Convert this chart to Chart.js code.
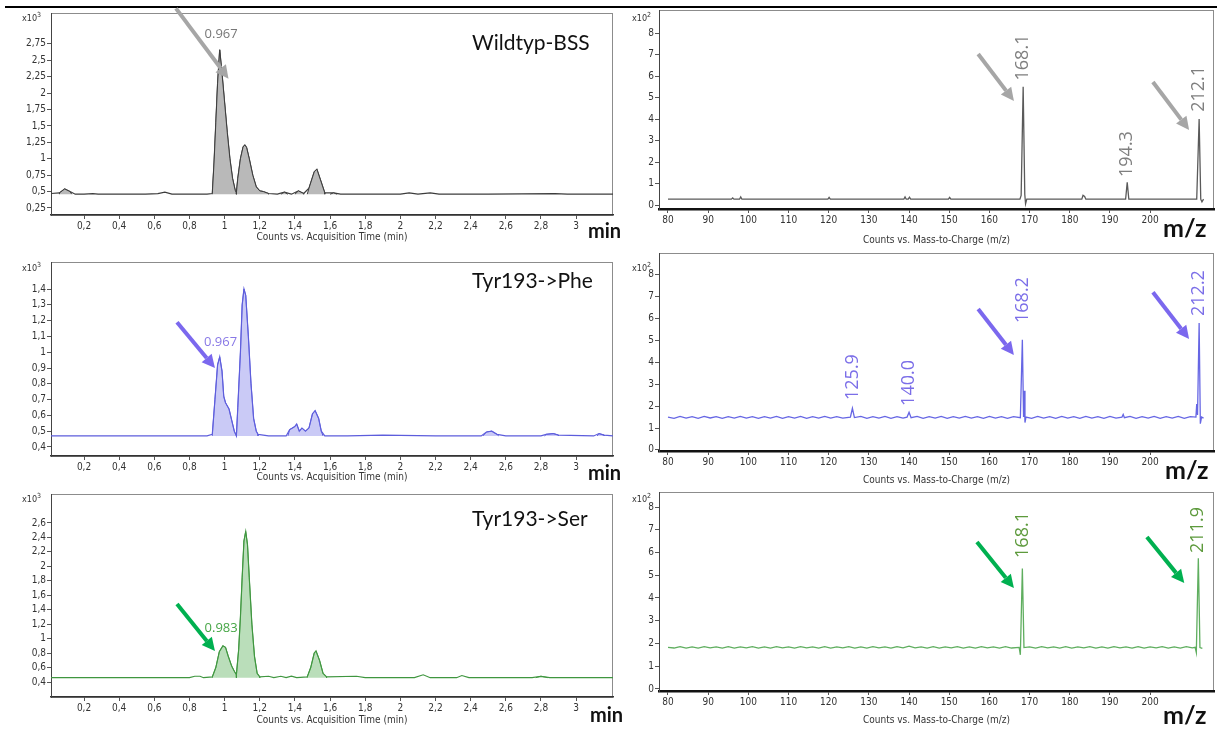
<!DOCTYPE html>
<html>
<head>
<meta charset="utf-8">
<script src="https://cdn.jsdelivr.net/npm/chart.js@4"></script>
<style>
  body { margin: 0; background: #fff; width: 1217px; height: 729px; overflow: hidden; position: relative; }
  canvas { position: absolute; }
  #topline { position: absolute; left: 5px; top: 6px; width: 1212px; height: 2px; background: #000; }
  .t { position: absolute; white-space: nowrap; }
  .title { font-family: Lato, "Open Sans", sans-serif; font-size: 21px; color: #111; line-height: 21px; }
  .unit { font-family: Lato, "Open Sans", sans-serif; font-weight: bold; color: #111; }
  .exp { font-family: "Liberation Sans Narrow", "DejaVu Sans Condensed", sans-serif; font-size: 9px; color: #333; line-height: 10px; }
  .exp sup { font-size: 7px; }
</style>
</head>
<body>
<div id="topline"></div>

<canvas id="wtChrom" width="620" height="245" style="left:0;top:0"></canvas>
<canvas id="pheChrom" width="620" height="238" style="left:0;top:248px"></canvas>
<canvas id="serChrom" width="620" height="249" style="left:0;top:480px"></canvas>
<canvas id="wtSpec" width="597" height="249" style="left:620px;top:0"></canvas>
<canvas id="pheSpec" width="597" height="249" style="left:620px;top:240px"></canvas>
<canvas id="serSpec" width="597" height="249" style="left:620px;top:480px"></canvas>

<div class="t title" style="left:472px;top:31px">Wildtyp-BSS</div>
<div class="t title" style="left:472px;top:269px">Tyr193-&gt;Phe</div>
<div class="t title" style="left:472px;top:507px">Tyr193-&gt;Ser</div>

<div class="t unit" style="left:588px;top:218px;font-size:20px">min</div>
<div class="t unit" style="left:588px;top:460px;font-size:20px">min</div>
<div class="t unit" style="left:590px;top:702px;font-size:20px">min</div>
<div class="t unit" style="left:1163px;top:212px;font-size:25px">m/z</div>
<div class="t unit" style="left:1165px;top:454px;font-size:25px">m/z</div>
<div class="t unit" style="left:1163px;top:699px;font-size:25px">m/z</div>

<div class="t exp" style="left:22px;top:10px">x10<sup>3</sup></div>
<div class="t exp" style="left:22px;top:260px">x10<sup>3</sup></div>
<div class="t exp" style="left:22px;top:491px">x10<sup>3</sup></div>
<div class="t exp" style="left:632px;top:10px">x10<sup>2</sup></div>
<div class="t exp" style="left:632px;top:260px">x10<sup>2</sup></div>
<div class="t exp" style="left:632px;top:491px">x10<sup>2</sup></div>

<script>
// ---- tick labels ----
const timeTicks = [0.2, 0.4, 0.6, 0.8, 1, 1.2, 1.4, 1.6, 1.8, 2, 2.2, 2.4, 2.6, 2.8, 3];
const wtCountTicks = [0.25, 0.5, 0.75, 1, 1.25, 1.5, 1.75, 2, 2.25, 2.5, 2.75];
const pheCountTicks = [0.4, 0.5, 0.6, 0.7, 0.8, 0.9, 1, 1.1, 1.2, 1.3, 1.4];
const serCountTicks = [0.4, 0.6, 0.8, 1, 1.2, 1.4, 1.6, 1.8, 2, 2.2, 2.4, 2.6];
const mzTicks = [80, 90, 100, 110, 120, 130, 140, 150, 160, 170, 180, 190, 200];
const specTicks = [0, 1, 2, 3, 4, 5, 6, 7, 8];

// ---- chromatograms (time in min, counts x10^3) ----
const wtTime = [0.01, 0.06, 0.09, 0.12, 0.15, 0.2, 0.25, 0.28, 0.4, 0.55, 0.62, 0.66, 0.7, 0.8, 0.9, 0.93, 0.94, 0.95, 0.96, 0.972, 0.985, 1.0, 1.015, 1.03, 1.045, 1.06, 1.067, 1.075, 1.09, 1.105, 1.115, 1.125, 1.14, 1.16, 1.18, 1.2, 1.22, 1.25, 1.3, 1.34, 1.38, 1.42, 1.45, 1.48, 1.51, 1.525, 1.545, 1.57, 1.62, 1.66, 1.8, 2.0, 2.05, 2.1, 2.17, 2.22, 2.5, 2.88, 2.95, 3.21];
const wtCounts = [0.47, 0.48, 0.54, 0.5, 0.46, 0.46, 0.47, 0.46, 0.46, 0.46, 0.47, 0.49, 0.46, 0.46, 0.46, 0.47, 0.95, 1.55, 2.15, 2.66, 2.3, 1.85, 1.4, 1.0, 0.7, 0.52, 0.48, 0.7, 1.0, 1.18, 1.21, 1.17, 1.0, 0.75, 0.57, 0.51, 0.5, 0.47, 0.46, 0.49, 0.46, 0.51, 0.47, 0.55, 0.8, 0.84, 0.68, 0.48, 0.48, 0.46, 0.46, 0.46, 0.48, 0.46, 0.48, 0.46, 0.46, 0.47, 0.46, 0.46];
const wtPeaks = [[0.06, 0.13], [0.93, 1.067], [1.067, 1.25], [1.32, 1.36], [1.4, 1.45], [1.47, 1.57], [1.6, 1.64]];

const pheTime = [0.01, 0.3, 0.5, 0.7, 0.9, 0.93, 0.945, 0.96, 0.972, 0.985, 0.995, 1.005, 1.025, 1.04, 1.055, 1.067, 1.075, 1.09, 1.1, 1.11, 1.12, 1.135, 1.15, 1.165, 1.18, 1.19, 1.25, 1.35, 1.37, 1.4, 1.41, 1.425, 1.44, 1.46, 1.48, 1.5, 1.515, 1.535, 1.55, 1.57, 1.7, 1.9, 2.2, 2.46, 2.49, 2.52, 2.55, 2.6, 2.8, 2.83, 2.87, 2.9, 3.1, 3.13, 3.16, 3.21];
const pheCounts = [0.47, 0.47, 0.47, 0.47, 0.47, 0.48, 0.7, 0.92, 0.97, 0.88, 0.72, 0.68, 0.64, 0.57, 0.5, 0.47, 0.65, 1.0, 1.3, 1.4, 1.36, 1.1, 0.8, 0.58, 0.5, 0.48, 0.47, 0.47, 0.51, 0.53, 0.545, 0.5, 0.52, 0.5, 0.52, 0.61, 0.63, 0.58, 0.5, 0.47, 0.47, 0.475, 0.47, 0.47, 0.495, 0.5, 0.48, 0.47, 0.47, 0.48, 0.485, 0.475, 0.47, 0.485, 0.475, 0.47];
const phePeaks = [[0.93, 1.067], [1.067, 1.19], [1.36, 1.56], [2.47, 2.56], [2.82, 2.9], [3.12, 3.16]];

const serTime = [0.01, 0.2, 0.5, 0.7, 0.8, 0.83, 0.86, 0.88, 0.93, 0.95, 0.97, 0.99, 1.005, 1.02, 1.04, 1.055, 1.067, 1.08, 1.09, 1.1, 1.11, 1.12, 1.13, 1.14, 1.155, 1.17, 1.185, 1.2, 1.25, 1.28, 1.32, 1.35, 1.38, 1.41, 1.47, 1.49, 1.51, 1.52, 1.54, 1.56, 1.58, 1.75, 1.8, 2.08, 2.13, 2.17, 2.32, 2.35, 2.39, 2.75, 2.8, 2.85, 3.21];
const serCounts = [0.46, 0.46, 0.46, 0.46, 0.46, 0.48, 0.48, 0.46, 0.47, 0.6, 0.82, 0.9, 0.88, 0.76, 0.62, 0.55, 0.5, 0.85, 1.3, 1.85, 2.35, 2.48, 2.3, 1.85, 1.2, 0.75, 0.52, 0.47, 0.48, 0.46, 0.48, 0.46, 0.48, 0.46, 0.47, 0.6, 0.8, 0.83, 0.7, 0.52, 0.47, 0.48, 0.46, 0.46, 0.5, 0.46, 0.46, 0.49, 0.46, 0.46, 0.48, 0.46, 0.46];
const serPeaks = [[0.93, 1.067], [1.067, 1.2], [1.47, 1.58], [2.77, 2.84]];

// ---- mass spectra [m/z, counts x10^2] ----
const wtSpectrum = [[80, 0.27], [95.8, 0.27], [96.1, 0.33], [96.4, 0.27], [97.8, 0.27], [98.1, 0.38], [98.4, 0.27], [119.8, 0.27], [120.1, 0.35], [120.4, 0.27], [138.7, 0.27], [139, 0.38], [139.3, 0.27], [139.8, 0.27], [140.1, 0.36], [140.4, 0.27], [149.8, 0.27], [150.1, 0.35], [150.4, 0.27], [167.6, 0.27], [167.9, 0.45], [168.4, 5.5], [168.8, 0.5], [169.0, 0.05], [169.3, 0.27], [183, 0.27], [183.3, 0.45], [183.7, 0.4], [184, 0.27], [193.9, 0.27], [194.3, 1.05], [194.7, 0.27], [211.6, 0.27], [212.2, 4.0], [212.6, 0.27], [212.9, 0.15], [213.3, 0.27]];

const pheSpectrum = [[80, 1.5], [81.5, 1.44], [83, 1.53], [84.5, 1.45], [86, 1.52], [87.5, 1.44], [89, 1.53], [90.5, 1.46], [92, 1.52], [93.5, 1.44], [95, 1.52], [96.5, 1.45], [98, 1.53], [99.5, 1.45], [101, 1.52], [102.5, 1.44], [104, 1.52], [105.5, 1.45], [107, 1.53], [108.5, 1.44], [110, 1.52], [111.5, 1.45], [113, 1.53], [114.5, 1.44], [116, 1.52], [117.5, 1.45], [119, 1.53], [120.5, 1.45], [122, 1.52], [123.5, 1.45], [125.4, 1.5], [125.9, 1.9], [126.4, 1.48], [128, 1.53], [129.5, 1.44], [131, 1.52], [132.5, 1.45], [134, 1.53], [135.5, 1.44], [137, 1.52], [138.5, 1.45], [139.5, 1.5], [140, 1.72], [140.5, 1.47], [142, 1.53], [143.5, 1.44], [145, 1.52], [146.5, 1.45], [148, 1.53], [149.5, 1.44], [151, 1.52], [152.5, 1.45], [154, 1.53], [155.5, 1.45], [157, 1.52], [158.5, 1.44], [160, 1.53], [161.5, 1.45], [163, 1.52], [164.5, 1.44], [166, 1.52], [167.7, 1.47], [168.2, 5.03], [168.5, 1.5], [168.7, 2.7], [168.85, 1.25], [169.1, 1.5], [170.5, 1.44], [172, 1.53], [173.5, 1.45], [175, 1.52], [176.5, 1.44], [178, 1.53], [179.5, 1.45], [181, 1.52], [182.5, 1.44], [184, 1.53], [185.5, 1.45], [187, 1.52], [188.5, 1.44], [190, 1.53], [191.5, 1.45], [193, 1.5], [193.3, 1.62], [193.6, 1.47], [195, 1.53], [196.5, 1.44], [198, 1.52], [199.5, 1.45], [201, 1.53], [202.5, 1.44], [204, 1.52], [205.5, 1.45], [207, 1.53], [208.5, 1.44], [210, 1.52], [211.4, 1.5], [211.6, 2.1], [211.8, 1.6], [212.2, 5.8], [212.5, 1.2], [212.8, 1.5], [213.3, 1.45]];

const serSpectrum = [[80, 1.83], [81.5, 1.8], [83, 1.86], [84.5, 1.8], [86, 1.85], [87.5, 1.8], [89, 1.86], [90.5, 1.81], [92, 1.85], [93.5, 1.8], [95, 1.86], [96.5, 1.8], [98, 1.85], [99.5, 1.81], [101, 1.86], [102.5, 1.8], [104, 1.85], [105.5, 1.8], [107, 1.86], [108.5, 1.81], [110, 1.85], [111.5, 1.8], [113, 1.86], [114.5, 1.81], [116, 1.85], [117.5, 1.8], [119, 1.86], [120.5, 1.8], [122, 1.85], [123.5, 1.81], [125, 1.86], [126.5, 1.8], [128, 1.85], [129.5, 1.8], [131, 1.86], [132.5, 1.81], [134, 1.85], [135.5, 1.8], [137, 1.86], [138.5, 1.81], [140, 1.88], [141.5, 1.81], [143, 1.85], [144.5, 1.8], [146, 1.86], [147.5, 1.8], [149, 1.85], [150.5, 1.81], [152, 1.86], [153.5, 1.8], [155, 1.85], [156.5, 1.8], [158, 1.86], [159.5, 1.81], [161, 1.85], [162.5, 1.8], [164, 1.86], [165.5, 1.8], [167.4, 1.83], [167.7, 1.5], [168.2, 5.3], [168.6, 1.82], [170, 1.85], [171.5, 1.8], [173, 1.86], [174.5, 1.81], [176, 1.85], [177.5, 1.8], [179, 1.86], [180.5, 1.8], [182, 1.85], [183.5, 1.81], [185, 1.86], [186.5, 1.8], [188, 1.85], [189.5, 1.8], [191, 1.86], [192.5, 1.81], [194, 1.85], [195.5, 1.8], [197, 1.86], [198.5, 1.8], [200, 1.85], [201.5, 1.81], [203, 1.86], [204.5, 1.8], [206, 1.85], [207.5, 1.8], [209, 1.86], [210.5, 1.81], [211.2, 1.83], [211.5, 1.6], [212, 5.75], [212.4, 1.82], [213, 1.78]];

// ---- annotations (data coordinates) ----
const wtChromLabels = [{ text: '0.967', x: 0.98, y: 2.89 }];
const pheChromLabels = [{ text: '0.967', x: 0.977, y: 1.06 }];
const serChromLabels = [{ text: '0.983', x: 0.98, y: 1.147 }];
const wtChromArrows = [[0.723, 3.29, 1.022, 2.22]];
const pheChromArrows = [[0.729, 1.19, 0.945, 0.9]];
const serChromArrows = [[0.729, 1.479, 0.945, 0.829]];

const wtSpecLabels = [{ text: '168.1', x: 168.4, y: 6.86 }, { text: '194.3', x: 194.3, y: 2.37 }, { text: '212.1', x: 212.2, y: 5.4 }];
const pheSpecLabels = [{ text: '125.9', x: 126.0, y: 3.33 }, { text: '140.0', x: 140.0, y: 3.06 }, { text: '168.2', x: 168.3, y: 6.85 }, { text: '212.2', x: 212.1, y: 7.17 }];
const serSpecLabels = [{ text: '168.1', x: 168.3, y: 6.77 }, { text: '211.9', x: 212.0, y: 6.99 }];
const wtSpecArrows = [[157.2, 7.02, 166.1, 4.84], [200.7, 5.72, 209.7, 3.49]];
const pheSpecArrows = [[157.2, 6.44, 166.1, 4.34], [200.7, 7.21, 209.7, 5.07]];
const serSpecArrows = [[156.9, 6.46, 166.1, 4.44], [199.2, 6.68, 208.5, 4.66]];

const narrow = "'Liberation Sans Narrow', 'DejaVu Sans Condensed', sans-serif";

function comma(v) { return String(+v.toFixed(2)).replace('.', ','); }

function drawArrow(c, x1, y1, x2, y2, col) {
  const a = Math.atan2(y2 - y1, x2 - x1), head = 13, hw = 6.5;
  const bx = x2 - head * Math.cos(a), by = y2 - head * Math.sin(a);
  c.save();
  c.strokeStyle = col; c.fillStyle = col; c.lineWidth = 4;
  c.beginPath(); c.moveTo(x1, y1); c.lineTo(bx, by); c.stroke();
  c.beginPath(); c.moveTo(x2, y2);
  c.lineTo(bx - hw * Math.sin(a), by + hw * Math.cos(a));
  c.lineTo(bx + hw * Math.sin(a), by - hw * Math.cos(a));
  c.closePath(); c.fill();
  c.restore();
}

const frame = {
  id: 'frame',
  beforeDraw(chart) {
    const a = chart.chartArea, c = chart.ctx;
    c.save();
    c.strokeStyle = '#8c8c8c'; c.lineWidth = 1;
    c.strokeRect(a.left + 0.5, a.top + 0.5, a.right - a.left - 1, a.bottom - a.top);
    c.restore();
  },
  afterDraw(chart) {
    const o = chart.options.plugins.frame, c = chart.ctx;
    const xs = chart.scales.x, ys = chart.scales.y;
    o.arrows.forEach(r => drawArrow(c, xs.getPixelForValue(r[0]), ys.getPixelForValue(r[1]),
      xs.getPixelForValue(r[2]), ys.getPixelForValue(r[3]), o.arrowColor));
    o.labels.forEach(l => {
      c.save();
      c.translate(xs.getPixelForValue(l.x), ys.getPixelForValue(l.y));
      if (o.rotate) c.rotate(-Math.PI / 2);
      c.font = o.labelFont; c.fillStyle = o.labelColor;
      c.textAlign = 'center'; c.textBaseline = 'middle';
      c.fillText(l.text, 0, 0);
      c.restore();
    });
  }
};

function peakFill(time, counts, windows, base) {
  const pts = [];
  windows.forEach(([a, b]) => {
    pts.push({ x: a, y: base });
    time.forEach((t, i) => { if (t >= a && t <= b) pts.push({ x: t, y: counts[i] }); });
    pts.push({ x: b, y: base });
    pts.push({ x: b, y: null });
  });
  return pts;
}

function axes(o) {
  return {
    x: {
      type: 'linear', min: o.xMin, max: o.xMax,
      afterBuildTicks: s => { s.ticks = o.xTicks.map(v => ({ value: v })); },
      afterFit: s => { s.height = o.xH; },
      ticks: { autoSkip: false, maxRotation: 0, padding: 1, color: '#333', font: { family: narrow, size: 10 }, callback: v => comma(v) },
      grid: { drawOnChartArea: false, tickLength: 4, color: '#555' },
      border: { color: o.xBorder, width: o.xBorderW },
      title: { display: true, text: o.xTitle, color: '#333', font: { family: narrow, size: 10 }, padding: { top: 0, bottom: o.titlePad } }
    },
    y: {
      min: o.yMin, max: o.yMax,
      afterBuildTicks: s => { s.ticks = o.yTicks.map(v => ({ value: v })); },
      afterFit: s => { s.width = o.yW; },
      ticks: { autoSkip: false, padding: 1, color: '#333', font: { family: narrow, size: 10 }, callback: v => comma(v) },
      grid: { drawOnChartArea: false, tickLength: 4, color: '#555' },
      border: { color: '#444', width: 1 }
    }
  };
}

function chromChart(id, time, counts, peaks, base, col, o) {
  const trace = time.map((t, i) => ({ x: t, y: counts[i] }));
  new Chart(document.getElementById(id), {
    type: 'line',
    data: {
      datasets: [
        { data: peakFill(time, counts, peaks, base), borderColor: col.line, backgroundColor: col.fill, borderWidth: 1, fill: { value: base }, spanGaps: false },
        { data: trace, borderColor: col.line, borderWidth: 1.2, fill: false }
      ]
    },
    options: {
      responsive: false, animation: false,
      elements: { point: { radius: 0 }, line: { tension: 0 } },
      layout: { padding: { top: o.padTop, right: o.padRight, left: 0, bottom: 0 } },
      scales: axes(Object.assign({ xMin: 0.012, xMax: 3.21, xTicks: timeTicks, xTitle: 'Counts vs. Acquisition Time (min)', xBorder: '#333', xBorderW: 1.5, yW: 51 }, o)),
      plugins: {
        legend: { display: false }, tooltip: { enabled: false },
        frame: { labels: o.labels, arrows: o.arrows, arrowColor: col.arrow, labelColor: col.label, labelFont: '13px "Open Sans", sans-serif', rotate: false }
      }
    },
    plugins: [frame]
  });
}

function specChart(id, spectrum, col, o) {
  new Chart(document.getElementById(id), {
    type: 'line',
    data: { datasets: [{ data: spectrum.map(p => ({ x: p[0], y: p[1] })), borderColor: col.line, borderWidth: 1.3, fill: false }] },
    options: {
      responsive: false, animation: false,
      elements: { point: { radius: 0 }, line: { tension: 0 } },
      layout: { padding: { top: o.padTop, right: 3, left: 0, bottom: 0 } },
      scales: axes(Object.assign({ xMin: 77.76, xMax: 215.9, xTicks: mzTicks, yTicks: specTicks, xTitle: 'Counts vs. Mass-to-Charge (m/z)', xBorder: '#111', xBorderW: 2.5, yW: 39 }, o)),
      plugins: {
        legend: { display: false }, tooltip: { enabled: false },
        frame: { labels: o.labels, arrows: o.arrows, arrowColor: col.arrow, labelColor: col.label, labelFont: '18px "Open Sans", sans-serif', rotate: true }
      }
    },
    plugins: [frame]
  });
}

const grey = { line: '#3c3c3c', fill: '#b9b9b9', arrow: '#a6a6a6', label: '#777777' };
const blue = { line: '#5d5ddc', fill: 'rgba(150,150,238,0.5)', arrow: '#7b68ee', label: '#8878e6' };
const green = { line: '#3f963f', fill: 'rgba(130,195,130,0.55)', arrow: '#00b050', label: '#46a646' };

chromChart('wtChrom', wtTime, wtCounts, wtPeaks, 0.46, grey,
  { yMin: 0.143, yMax: 3.22, yTicks: wtCountTicks, padTop: 13, padRight: 7, xH: 30, titlePad: 2, labels: wtChromLabels, arrows: wtChromArrows });
chromChart('pheChrom', pheTime, pheCounts, phePeaks, 0.47, blue,
  { yMin: 0.343, yMax: 1.571, yTicks: pheCountTicks, padTop: 14, padRight: 7, xH: 30, titlePad: 3, labels: pheChromLabels, arrows: pheChromArrows });
chromChart('serChrom', serTime, serCounts, serPeaks, 0.46, green,
  { yMin: 0.193, yMax: 3.0, yTicks: serCountTicks, padTop: 14, padRight: 7, xH: 32, titlePad: 3, labels: serChromLabels, arrows: serChromArrows });

specChart('wtSpec', wtSpectrum, { line: '#5a5a5a', arrow: '#a6a6a6', label: '#7f7f7f' },
  { yMin: -0.186, yMax: 9.07, padTop: 10, xH: 40, titlePad: 3, labels: wtSpecLabels, arrows: wtSpecArrows });
specChart('pheSpec', pheSpectrum, { line: '#6666e4', arrow: '#7b68ee', label: '#7b6ee8' },
  { yMin: -0.05, yMax: 9.0, padTop: 13, xH: 38, titlePad: 3, labels: pheSpecLabels, arrows: pheSpecArrows });
specChart('serSpec', serSpectrum, { line: '#5fae5f', arrow: '#00b050', label: '#5d9a3c' },
  { yMin: -0.09, yMax: 8.66, padTop: 12, xH: 38, titlePad: 3, labels: serSpecLabels, arrows: serSpecArrows });
</script>
</body>
</html>
